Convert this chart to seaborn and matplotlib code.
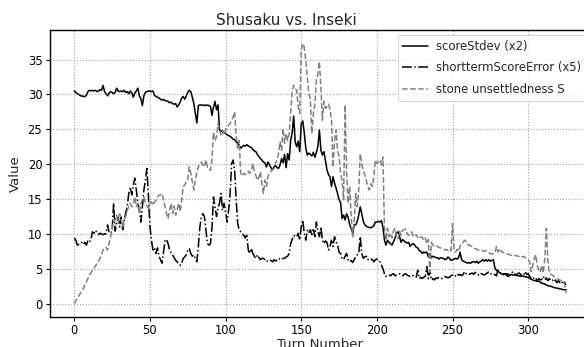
import numpy as np
import pandas as pd
import matplotlib
matplotlib.use("Agg")
import matplotlib.pyplot as plt
import seaborn as sns

# ---- data: one value per turn, turns 0..325 ----
score_stdev_x2 = [
    30.5, 30.3, 30.1, 30.0, 29.8, 29.8, 29.7, 29.7, 29.9, 30.4,
    30.6, 30.5, 30.6, 30.5, 30.6, 30.4, 30.5, 30.7, 30.6, 31.3,
    30.4, 30.1, 29.8, 30.2, 30.4, 30.3, 30.1, 30.3, 30.9, 30.5,
    30.4, 30.5, 30.4, 30.6, 30.3, 30.4, 30.1, 30.5, 30.2, 29.6,
    30.2, 30.5, 30.9, 29.8, 29.4, 28.4, 29.8, 30.3, 30.4, 30.5,
    30.5, 30.4, 30.5, 29.9, 29.7, 29.6, 29.5, 29.3, 29.2, 29.3,
    29.1, 29.1, 29.0, 28.8, 28.9, 28.7, 28.6, 28.7, 28.2, 28.5,
    28.9, 29.5, 29.7, 29.3, 29.8, 30.3, 30.6, 30.4, 29.6, 28.7,
    27.3, 25.9, 28.4, 28.5, 28.5, 28.4, 28.5, 28.4, 28.5, 28.4,
    28.3, 27.0, 28.2, 29.0, 27.8, 28.5, 24.9, 24.8, 24.6, 24.5,
    24.4, 24.2, 24.1, 24.0, 23.8, 23.6, 23.5, 23.2, 23.0, 22.7,
    22.3, 22.5, 22.7, 22.6, 22.8, 22.6, 22.5, 22.4, 22.1, 21.9,
    21.8, 21.4, 21.1, 20.8, 20.6, 20.3, 20.2, 19.6, 20.3, 19.9,
    19.5, 19.2, 19.6, 19.8, 19.5, 19.4, 19.9, 20.8, 20.2, 21.4,
    19.5, 21.5, 20.6, 23.4, 24.5, 26.9, 23.2, 22.5, 23.3, 21.8,
    25.8, 26.2, 24.5, 22.3, 21.3, 21.6, 21.4, 21.2, 21.7, 21.0,
    21.7, 22.5, 24.9, 22.0, 21.3, 21.8, 20.5, 19.2, 18.5, 18.2,
    16.8, 18.2, 17.3, 16.6, 15.8, 14.9, 14.5, 12.2, 12.7, 12.0,
    12.9, 12.4, 11.3, 10.8, 10.1, 11.3, 11.3, 11.8, 12.7, 13.9,
    12.9, 11.8, 11.3, 11.1, 11.0, 10.9, 10.9, 11.0, 11.2, 11.7,
    11.7, 11.8, 11.7, 11.9, 11.0, 9.1, 8.4, 9.1, 8.8, 8.6,
    8.4, 8.9, 9.4, 10.1, 10.3, 9.6, 8.8, 9.2, 9.0, 8.8,
    8.7, 8.8, 8.2, 8.5, 8.6, 8.4, 8.1, 8.0, 7.6, 7.5,
    7.2, 7.4, 7.3, 7.4, 6.7, 7.2, 6.6, 6.8, 6.7, 6.6,
    6.6, 6.4, 6.6, 6.5, 6.5, 6.3, 6.4, 6.7, 6.5, 6.2,
    6.3, 6.4, 6.5, 6.4, 6.6, 7.4, 6.3, 6.1, 6.0, 5.9,
    5.8, 5.9, 5.8, 6.0, 6.0, 5.9, 6.1, 5.8, 6.0, 6.1,
    6.3, 6.1, 6.3, 6.1, 6.3, 6.1, 6.2, 6.3, 5.1, 4.8,
    4.6, 4.5, 4.3, 4.2, 4.3, 4.2, 4.3, 4.2, 4.1, 4.2,
    4.1, 4.1, 4.1, 4.0, 4.0, 3.9, 4.0, 3.9, 3.9, 3.8,
    3.8, 3.6, 3.5, 3.4, 3.3, 3.3, 3.2, 3.2, 3.1, 2.9,
    2.9, 2.8, 2.7, 2.6, 2.5, 2.5, 2.4, 2.3, 2.3, 2.2,
    2.2, 2.1, 2.1, 2.0, 2.0, 2.0,
]

shortterm_error_x5 = [
    9.4, 9.1, 8.4, 8.5, 8.6, 8.8, 8.5, 8.8, 8.4, 9.0,
    8.8, 9.2, 10.3, 10.1, 10.5, 10.2, 9.9, 10.1, 10.0, 9.9,
    10.0, 10.0, 11.3, 10.2, 10.1, 10.4, 14.4, 10.4, 11.7, 12.4,
    11.0, 12.4, 10.6, 12.0, 13.0, 13.9, 15.8, 16.7, 15.6, 17.0,
    18.0, 16.3, 14.4, 13.4, 11.7, 13.9, 16.3, 17.7, 19.4, 15.4,
    11.0, 9.1, 7.7, 8.0, 7.2, 8.0, 6.8, 6.3, 5.8, 7.5,
    9.1, 9.2, 8.6, 7.7, 7.3, 7.0, 6.6, 6.2, 6.0, 5.7,
    5.5, 5.8, 6.5, 6.7, 7.0, 7.7, 7.9, 7.2, 6.8, 7.0,
    6.5, 6.0, 8.2, 11.0, 12.5, 12.9, 12.5, 10.6, 8.6, 8.4,
    8.6, 10.9, 15.3, 13.9, 12.5, 13.7, 14.4, 15.8, 13.4, 14.4,
    13.0, 11.7, 13.4, 15.8, 20.1, 20.6, 19.1, 14.9, 11.5, 10.6,
    10.3, 10.0, 9.8, 9.4, 9.8, 7.7, 7.2, 7.9, 7.2, 6.8,
    6.5, 7.0, 6.6, 6.3, 6.5, 6.5, 6.3, 6.0, 6.2, 6.3,
    6.2, 6.0, 6.3, 6.1, 6.3, 6.5, 6.4, 6.3, 6.5, 6.5,
    6.7, 6.8, 7.2, 8.6, 9.2, 9.8, 9.6, 9.6, 10.1, 9.1,
    11.0, 12.0, 10.1, 9.1, 10.5, 10.1, 10.6, 9.9, 10.8, 9.6,
    11.7, 10.3, 9.6, 11.0, 9.1, 8.6, 9.0, 8.8, 7.7, 8.2,
    9.1, 8.2, 9.6, 8.9, 8.4, 7.4, 7.2, 6.5, 6.3, 6.8,
    7.2, 6.3, 6.0, 6.2, 5.9, 6.3, 6.8, 7.0, 7.2, 9.6,
    7.2, 6.5, 6.7, 6.8, 6.3, 6.5, 6.4, 6.3, 6.0, 6.3,
    6.4, 6.3, 6.0, 5.5, 5.0, 4.3, 3.9, 4.1, 4.1, 4.0,
    4.2, 4.3, 4.0, 4.1, 4.2, 4.3, 4.1, 4.0, 4.2, 4.3,
    4.1, 4.0, 3.9, 4.1, 4.0, 3.9, 3.8, 4.8, 3.6, 3.8,
    3.6, 3.8, 3.9, 5.3, 3.6, 4.8, 3.4, 3.6, 3.4, 3.7,
    3.6, 3.8, 3.7, 3.6, 3.8, 3.9, 3.8, 3.7, 3.8, 4.0,
    4.1, 3.9, 4.0, 4.3, 4.1, 4.2, 4.0, 4.2, 4.6, 4.3,
    4.4, 4.2, 4.3, 4.4, 4.2, 4.5, 4.3, 4.1, 4.4, 4.3,
    4.2, 4.1, 4.3, 4.4, 4.6, 4.3, 4.2, 4.1, 4.2, 4.0,
    4.8, 4.6, 4.3, 4.1, 4.2, 4.3, 4.0, 3.9, 4.1, 4.4,
    4.6, 4.3, 4.1, 4.3, 4.4, 4.2, 4.0, 4.1, 4.6, 4.2,
    4.3, 3.9, 3.7, 3.5, 3.8, 3.6, 3.3, 3.6, 3.4, 3.5,
    3.9, 3.4, 3.7, 3.3, 3.6, 3.3, 3.4, 3.1, 3.4, 3.0,
    3.3, 3.0, 3.2, 2.8, 3.1, 2.7,
]

stone_unsettledness = [
    0.0, 0.4, 0.8, 1.1, 1.5, 1.8, 2.2, 2.7, 3.1, 3.6,
    4.1, 4.4, 4.8, 5.1, 5.4, 5.8, 6.1, 6.5, 7.0, 7.7,
    7.9, 8.1, 7.7, 8.6, 9.6, 10.6, 12.0, 12.0, 12.7, 11.5,
    12.9, 12.0, 11.0, 12.0, 12.5, 13.4, 13.9, 14.4, 13.9, 14.4,
    15.3, 13.9, 14.4, 12.9, 14.4, 14.9, 15.3, 14.4, 14.0, 13.7,
    14.4, 14.6, 14.1, 14.6, 14.8, 15.3, 15.6, 15.6, 15.8, 14.9,
    13.9, 12.9, 12.2, 13.4, 14.4, 12.9, 14.0, 12.7, 13.5, 14.4,
    13.2, 14.9, 16.8, 17.0, 17.5, 17.8, 19.6, 18.7, 17.5, 16.3,
    17.7, 18.9, 19.6, 20.1, 20.3, 19.9, 19.6, 20.6, 19.6, 19.3,
    19.1, 20.6, 24.6, 23.4, 23.9, 25.8, 24.9, 24.2, 24.9, 24.2,
    24.9, 25.4, 25.6, 25.8, 26.3, 26.8, 27.5, 24.0, 22.3, 23.4,
    18.7, 18.3, 18.7, 18.5, 18.6, 19.0, 18.7, 19.1, 20.1, 18.9,
    18.4, 17.7, 18.1, 18.9, 17.2, 15.8, 17.7, 16.8, 18.2, 18.7,
    19.0, 19.2, 19.4, 20.1, 20.6, 21.5, 23.2, 22.0, 25.1, 23.0,
    24.4, 23.4, 24.4, 27.3, 30.6, 31.3, 30.8, 30.6, 28.2, 27.3,
    36.3, 37.3, 36.8, 34.9, 32.5, 30.1, 29.4, 24.4, 27.3, 28.5,
    32.0, 33.0, 34.7, 31.0, 26.3, 29.0, 28.0, 28.2, 28.6, 27.9,
    26.3, 19.6, 23.4, 24.9, 22.0, 21.1, 18.7, 17.7, 14.9, 28.5,
    18.7, 14.4, 16.8, 12.5, 9.6, 12.0, 15.8, 13.9, 16.3, 21.5,
    20.1, 19.1, 18.5, 17.7, 16.8, 16.3, 17.2, 16.8, 18.2, 20.6,
    20.1, 20.3, 20.6, 19.9, 21.0, 11.0, 9.1, 10.8, 9.6, 10.1,
    9.4, 10.5, 10.8, 9.6, 9.3, 10.4, 9.8, 10.5, 10.6, 10.7,
    10.0, 9.8, 10.2, 10.3, 9.6, 9.8, 9.9, 9.5, 9.3, 9.6,
    9.5, 9.1, 9.4, 8.6, 9.2, 4.5, 8.8, 8.4, 8.2, 8.3,
    8.2, 8.1, 8.0, 7.9, 7.8, 7.7, 7.8, 7.6, 7.8, 7.6,
    11.5, 7.9, 7.4, 7.8, 7.5, 8.3, 8.6, 8.8, 9.1, 8.9,
    8.5, 8.4, 8.3, 8.2, 8.0, 7.9, 7.8, 7.7, 7.6, 7.7,
    7.6, 7.5, 7.6, 7.4, 7.3, 7.2, 7.1, 7.2, 7.3, 8.2,
    7.4, 7.9, 7.5, 7.4, 7.3, 7.2, 7.1, 7.1, 7.0, 6.9,
    6.8, 6.9, 6.9, 6.8, 6.8, 6.9, 6.7, 6.8, 6.6, 6.5,
    6.3, 6.0, 4.6, 5.5, 6.4, 7.0, 5.4, 4.9, 4.5, 5.5,
    4.4, 6.5, 10.8, 6.2, 4.4, 4.2, 4.1, 3.9, 3.8, 3.6,
    3.5, 3.4, 3.2, 3.1, 2.9, 1.5,
]

turns = np.arange(len(score_stdev_x2))

x_ticks = [0, 50, 100, 150, 200, 250, 300]
y_ticks = [0, 5, 10, 15, 20, 25, 30, 35]

# ---- styling ----
sns.set_style("ticks")
plt.rcParams["font.family"] = ["DejaVu Sans"]

fig = plt.figure(figsize=(5.84, 3.47), dpi=100)
ax = fig.add_axes([0.0851, 0.0873, 0.9262, 0.8254])

series = [
    (score_stdev_x2, "scoreStdev (x2)", "black", "-"),
    (shortterm_error_x5, "shorttermScoreError (x5)", "black", "-."),
    (stone_unsettledness, "stone unsettledness S", "#808080", "--"),
]
for values, label, color, ls in series:
    sns.lineplot(x=turns, y=values, ax=ax, color=color, linestyle=ls,
                 linewidth=1.1, label=label)

ax.set_xlim(-16.25, 341.25)
ax.set_ylim(-1.87, 39.2)
ax.set_xticks(x_ticks)
ax.set_yticks(y_ticks)
ax.grid(True, linestyle=":", color="#a0a0a0", linewidth=0.8)
ax.tick_params(direction="out", length=2.8, width=0.8, labelsize=8.3,
               colors="black", pad=2.5)
for sp in ax.spines.values():
    sp.set_color("black")
    sp.set_linewidth(1.0)

ax.set_xlabel("Turn Number", fontsize=9.5, labelpad=1)
ax.set_ylabel("Value", fontsize=9.5, labelpad=4)

fig.text(286.5 / 584, 1 - 20.5 / 347, "Shusaku vs. Inseki", ha="center",
         va="center", fontsize=11)

leg = ax.legend(loc="upper right", fontsize=8.4, frameon=True,
                handlelength=2.2, handletextpad=0.7, labelspacing=0.75,
                borderaxespad=0.4)
leg.get_frame().set_edgecolor("#cccccc")
leg.get_frame().set_linewidth(0.8)

fig.savefig("out.png", dpi=100)
